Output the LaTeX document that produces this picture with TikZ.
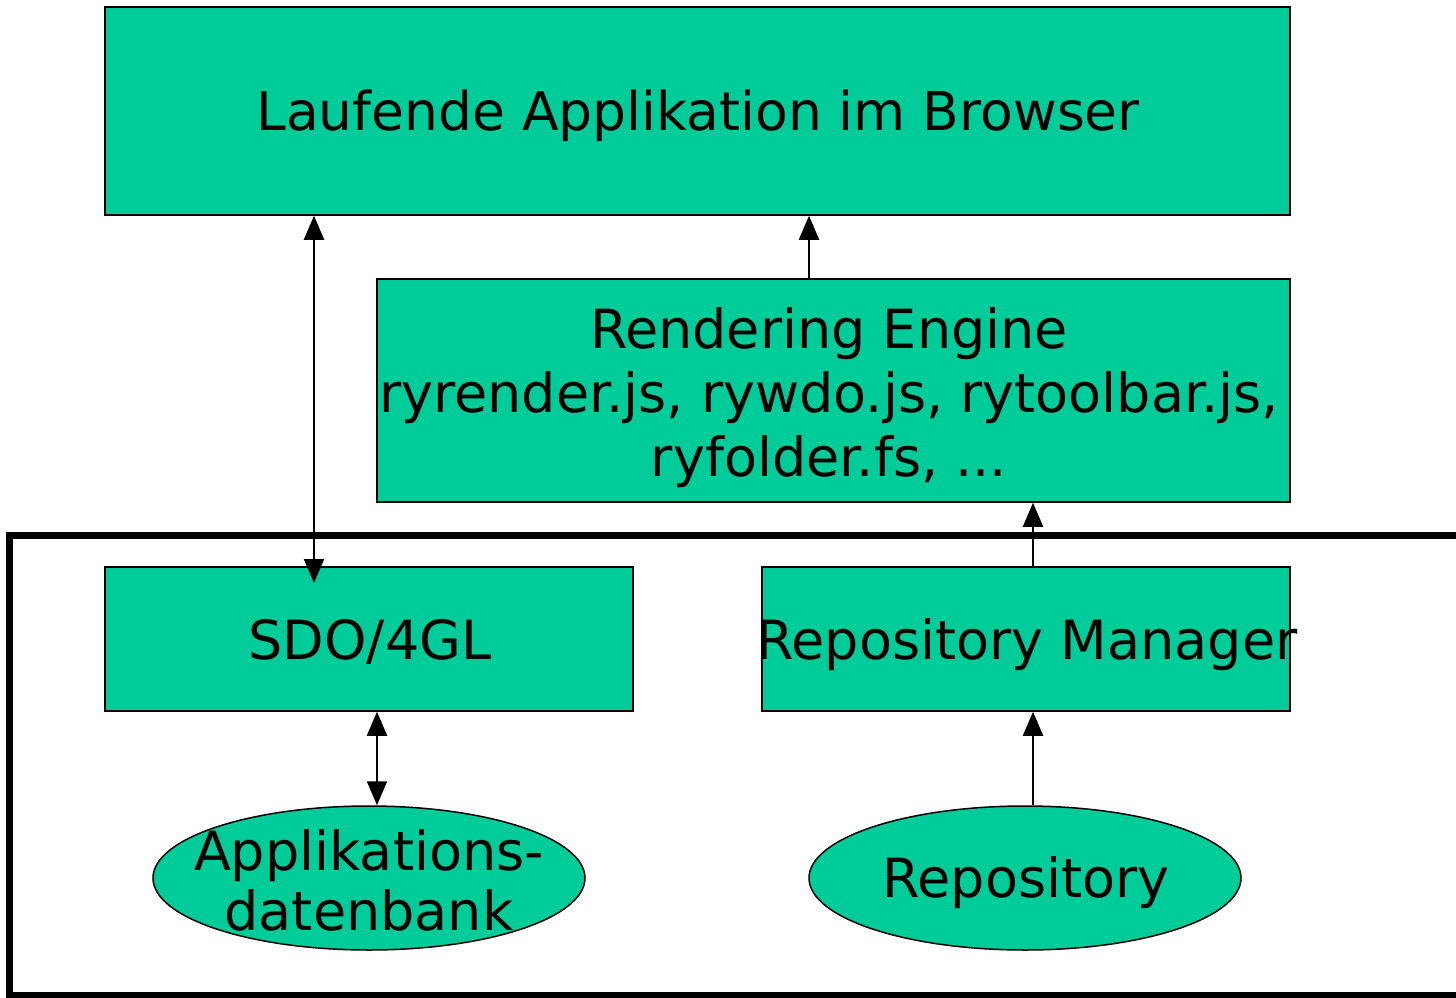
\documentclass[tikz,border=0pt]{standalone}
\usepackage{fontspec}
\setmainfont{DejaVu Sans}
\usetikzlibrary{arrows.meta}
\definecolor{boxgreen}{RGB}{0,204,153}
\tikzset{
  box/.style={draw=black, line width=1.5pt, fill=boxgreen, inner sep=0pt, align=center, font=\fontsize{54}{64}\selectfont},
  oval/.style={draw=black, line width=1.5pt, fill=boxgreen, ellipse, inner sep=0pt, align=center, font=\fontsize{54}{58}\selectfont},
  conn/.style={line width=2pt, -{Triangle[length=24pt,width=20pt]}},
  dconn/.style={line width=2pt, {Triangle[length=24pt,width=20pt]}-{Triangle[length=24pt,width=20pt]}},
}
\usetikzlibrary{shapes.geometric}
\begin{document}
\begin{tikzpicture}[x=1pt,y=-1pt]
\useasboundingbox (0,0) rectangle (1456,998);
\node[box, minimum width=1185pt, minimum height=208pt] (app) at (697.5,111) {};
\node[font=\fontsize{53.5}{64}\selectfont] (apptxt) at (698,116) {Laufende Applikation im Browser};
\node[box, minimum width=913pt, minimum height=223pt] (rend) at (833.5,390.5) {};
\node[font=\fontsize{54}{64}\selectfont, align=center] (rendtxt) at (829,398) {Rendering Engine\\ryrender.js, rywdo.js, rytoolbar.js,\\ryfolder.fs, ...};
\draw[line width=7pt] (1470,535) -- (9,535) -- (9,995) -- (1470,995);
\node[box, minimum width=528pt, minimum height=144pt] (sdo) at (369,639) {};
\node[font=\fontsize{54}{64}\selectfont] (sdotxt) at (370,642) {SDO/4GL};
\node[box, minimum width=528pt, minimum height=144pt] (rm) at (1026,639) {};
\node[font=\fontsize{54}{64}\selectfont] (rmtxt) at (1027,645) {Repository Manager};
\node[oval, minimum width=432pt, minimum height=144pt] (adb) at (369,878) {};
\node[font=\fontsize{54}{60}\selectfont, align=center] (adbtxt) at (369,880) {Applikations-\\datenbank};
\node[oval, minimum width=432pt, minimum height=144pt] (repo) at (1025,878) {};
\node[font=\fontsize{54}{64}\selectfont] (repotxt) at (1026,883) {Repository};
\coordinate (sdotip) at (314,583);
\draw[dconn] (app.south -| sdotip) -- (sdotip);
\draw[conn] (rend.north -| 809,0) -- (app.south -| 809,0);
\draw[conn] (rm.north -| 1033,0) -- (rend.south -| 1033,0);
\draw[dconn] (sdo.south -| 377,0) -- (adb.north -| 377,0);
\draw[conn] (repo.north -| 1033,0) -- (rm.south -| 1033,0);
\end{tikzpicture}
\end{document}
